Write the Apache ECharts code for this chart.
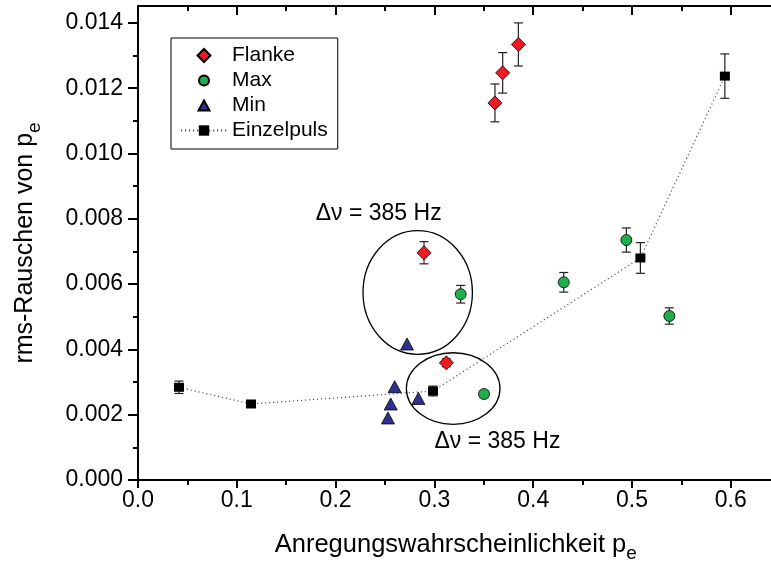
<!DOCTYPE html>
<html>
<head>
<meta charset="utf-8">
<script src="https://cdn.jsdelivr.net/npm/echarts@6/dist/echarts.min.js"></script>
<style>
  html, body { margin: 0; padding: 0; background: #fff; }
  #chart { width: 771px; height: 570px; }
</style>
</head>
<body>
<div id="chart"></div>
<script>
// Flanke: excitation probability, rms noise, error
const flankeX   = [0.2895, 0.3121, 0.3613, 0.3691, 0.3850];
const flankeY   = [0.00696, 0.00359, 0.01155, 0.01247, 0.01334];
const flankeErr = [0.00034, 0.00012, 0.00058, 0.00062, 0.00066];

// Max
const maxX   = [0.3266, 0.3502, 0.4309, 0.4943, 0.5378];
const maxY   = [0.00569, 0.002634, 0.006055, 0.00735, 0.005023];
const maxErr = [0.00027, 0.00010, 0.00030, 0.00037, 0.00025];

// Min
const minX = [0.2530, 0.2558, 0.2598, 0.2723, 0.2838];
const minY = [0.00190, 0.002328, 0.002858, 0.004165, 0.00250];

// Einzelpuls
const einzelX   = [0.0415, 0.1144, 0.2986, 0.5085, 0.5940];
const einzelY   = [0.00284, 0.002328, 0.002726, 0.00680, 0.01237];
const einzelErr = [0.00019, 0.00010, 0.00015, 0.00047, 0.00068];

// Axis ticks
const xTickStep = 0.1;
const yTickStep = 0.002;

// Grouping ellipses (centre x, centre y, radius x, radius y) and their labels
const groupEllipses = [
  [0.2831, 0.005743, 0.05536, 0.001893],
  [0.3190, 0.002802, 0.04737, 0.001096]
];
const groupLabels = [
  [0.2436, 0.008147, 'Δν = 385 Hz'],
  [0.3638, 0.001173, 'Δν = 385 Hz']
];

const FONT = '"Liberation Sans", Arial, Helvetica, sans-serif';
const pairs = (xs, ys) => xs.map((x, i) => [x, ys[i]]);

// Legend glyphs: each path spans the full 46x13 legend cell (leading moveTos),
// so the marker keeps its own size inside the cell.
const CELL = 'M0 0M46 13';
const legendIcons = {
  Flanke: 'path://' + CELL + 'M23 0L29.5 6.5L23 13L16.5 6.5Z',
  Max: 'path://' + CELL + 'M18 6.5A5 5 0 1 1 28 6.5A5 5 0 1 1 18 6.5Z',
  Min: 'path://' + CELL + 'M23 1.5L28.5 11.5L17.5 11.5Z'
};

function errorBars(xs, ys, errs) {
  return {
    type: 'custom',
    silent: true,
    z: 1,
    data: xs.map((x, i) => [x, ys[i] - errs[i], ys[i] + errs[i]]),
    renderItem(params, api) {
      const lo = api.coord([api.value(0), api.value(1)]);
      const hi = api.coord([api.value(0), api.value(2)]);
      const w = 4.5;
      const style = { stroke: '#222', lineWidth: 1.2 };
      return {
        type: 'group',
        children: [
          { type: 'line', shape: { x1: lo[0], y1: lo[1], x2: hi[0], y2: hi[1] }, style },
          { type: 'line', shape: { x1: lo[0] - w, y1: lo[1], x2: lo[0] + w, y2: lo[1] }, style },
          { type: 'line', shape: { x1: hi[0] - w, y1: hi[1], x2: hi[0] + w, y2: hi[1] }, style }
        ]
      };
    }
  };
}

const chart = echarts.init(document.getElementById('chart'), null, { renderer: 'canvas' });

const axisBlack = { color: '#000', width: 2 };

chart.setOption({
  animation: false,
  backgroundColor: '#fff',
  textStyle: { fontFamily: FONT, color: '#000' },
  grid: [
    { left: 138, right: -58.6, top: -42.4, bottom: 90, containLabel: false, outerBoundsMode: 'none' },
    { left: 138, right: -58.6, top: 6, bottom: 90, containLabel: false, outerBoundsMode: 'none' }
  ],
  legend: {
    orient: 'vertical',
    left: 171,
    top: 38,
    padding: [5, 10, 6, 9],
    borderColor: '#000',
    borderWidth: 1,
    itemWidth: 46,
    itemHeight: 13,
    itemGap: 0,
    textStyle: { fontFamily: FONT, fontSize: 21, color: '#000', lineHeight: 25 },
    data: [
      { name: 'Flanke', icon: legendIcons.Flanke },
      { name: 'Max', icon: legendIcons.Max },
      { name: 'Min', icon: legendIcons.Min },
      { name: 'Einzelpuls' }
    ]
  },
  xAxis: [
    {
      gridIndex: 0,
      type: 'value',
      position: 'bottom',
      min: 0, max: 0.7, interval: xTickStep,
      axisLine: { onZero: false, lineStyle: axisBlack },
      axisTick: { inside: false, length: 8, lineStyle: axisBlack },
      minorTick: { show: true, splitNumber: 2, length: 5, lineStyle: axisBlack },
      splitLine: { show: false },
      axisLabel: {
        fontFamily: FONT, fontSize: 23, color: '#000', margin: 9,
        formatter: v => v.toFixed(1)
      },
      name: '{n|Anregungswahrscheinlichkeit p}{s|e}',
      nameLocation: 'middle',
      nameGap: 52,
      nameTextStyle: {
        padding: [0, 56, 0, 0],
        rich: {
          n: { fontFamily: FONT, fontSize: 25.5, lineHeight: 25, verticalAlign: 'top', color: '#000' },
          s: { fontFamily: FONT, fontSize: 19, lineHeight: 19, padding: [18, 0, 0, 0], color: '#000' }
        }
      }
    },
    {
      gridIndex: 1,
      type: 'value',
      position: 'top',
      min: 0, max: 0.7, interval: xTickStep,
      axisLine: { onZero: false, lineStyle: axisBlack },
      axisTick: { inside: true, length: 9, lineStyle: axisBlack },
      minorTick: { show: true, splitNumber: 2, length: 5, lineStyle: axisBlack },
      splitLine: { show: false },
      axisLabel: { show: false }
    }
  ],
  yAxis: [
    {
      gridIndex: 0,
      type: 'value',
      min: 0, max: 0.016, interval: yTickStep,
      axisLine: { show: false },
      axisTick: { inside: false, length: 10, lineStyle: axisBlack },
      minorTick: { show: true, splitNumber: 2, length: 5, lineStyle: axisBlack },
      splitLine: { show: false },
      axisLabel: {
        fontFamily: FONT, fontSize: 23, color: '#000', margin: 15,
        formatter: v => v.toFixed(3)
      }
    },
    {
      gridIndex: 1,
      type: 'value',
      min: 0, max: 1,
      axisLine: { onZero: false, lineStyle: axisBlack },
      axisTick: { show: false },
      splitLine: { show: false },
      axisLabel: { show: false },
      name: '{n|rms-Rauschen von p}{s|e}',
      nameLocation: 'middle',
      nameGap: 100,
      nameTextStyle: {
        rich: {
          n: { fontFamily: FONT, fontSize: 25, lineHeight: 25, verticalAlign: 'top', color: '#000' },
          s: { fontFamily: FONT, fontSize: 19, lineHeight: 19, padding: [18, 0, 0, 0], color: '#000' }
        }
      }
    }
  ],
  series: [
    errorBars(flankeX, flankeY, flankeErr),
    errorBars(maxX, maxY, maxErr),
    errorBars(einzelX, einzelY, einzelErr),
    {
      type: 'custom',
      silent: true,
      z: 1,
      data: groupEllipses,
      renderItem(params, api) {
        const c = api.coord([api.value(0), api.value(1)]);
        const s = api.size([api.value(2), api.value(3)]);
        return {
          type: 'ellipse',
          shape: { cx: c[0], cy: c[1], rx: s[0], ry: s[1] },
          style: { fill: null, stroke: '#000', lineWidth: 1.3 }
        };
      }
    },
    {
      type: 'custom',
      silent: true,
      z: 1,
      data: groupLabels,
      renderItem(params, api) {
        const c = api.coord([api.value(0), api.value(1)]);
        return {
          type: 'text',
          x: c[0], y: c[1],
          style: {
            text: groupLabels[params.dataIndex][2],
            fontFamily: FONT, fontSize: 23, fill: '#000',
            align: 'center', verticalAlign: 'middle'
          }
        };
      }
    },
    {
      name: 'Einzelpuls',
      type: 'line',
      z: 2,
      data: pairs(einzelX, einzelY),
      symbol: 'rect',
      symbolSize: [10, 9],
      itemStyle: { color: '#000' },
      lineStyle: { color: '#555', width: 1.2, type: [1.2, 2.8] }
    },
    {
      name: 'Flanke',
      type: 'scatter',
      z: 3,
      data: pairs(flankeX, flankeY),
      symbol: 'diamond',
      symbolSize: [14, 14],
      itemStyle: { color: '#ed1c24', borderColor: '#000', borderWidth: 0.8, opacity: 1 }
    },
    {
      name: 'Max',
      type: 'scatter',
      z: 3,
      data: pairs(maxX, maxY),
      symbol: 'circle',
      symbolSize: 11,
      itemStyle: { color: '#1eae4b', borderColor: '#000', borderWidth: 0.8, opacity: 1 }
    },
    {
      name: 'Min',
      type: 'scatter',
      z: 3,
      data: pairs(minX, minY),
      symbol: 'triangle',
      symbolSize: [13, 12],
      itemStyle: { color: '#2e3192', borderColor: '#000', borderWidth: 0.8, opacity: 1 }
    }
  ]
});
</script>
</body>
</html>
